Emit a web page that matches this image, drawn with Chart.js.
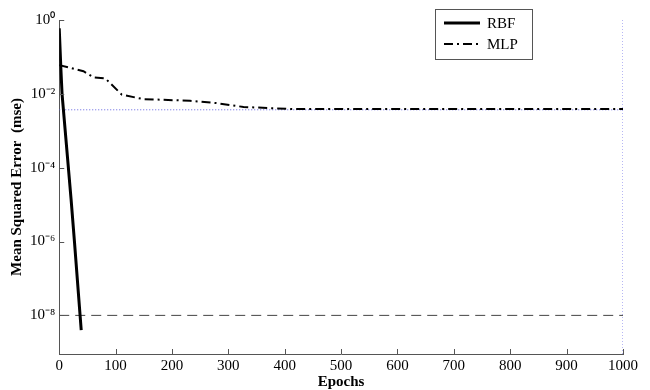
<!DOCTYPE html>
<html>
<head>
<meta charset="utf-8">
<script src="https://cdn.jsdelivr.net/npm/chart.js@4.4.1/dist/chart.umd.min.js"></script>
<style>
  html, body { margin: 0; padding: 0; background: #fff; }
  #wrap { width: 650px; height: 390px; }
</style>
</head>
<body>
<div id="wrap"><canvas id="mseChart"></canvas></div>
<script>
const xTicks = [0, 100, 200, 300, 400, 500, 600, 700, 800, 900, 1000];
const yTicks = [1e-8, 1e-6, 1e-4, 1e-2, 1];

// training curves
const rbfEpochs = [0, 3, 5, 21, 27, 37, 39];
const rbfMse = [0.6, 0.045, 0.01, 1.4e-5, 1e-6, 1e-8, 4e-9];
const mlpEpochs = [0, 43, 61, 82, 111, 149, 232, 280, 327, 410, 1000];
const mlpMse = [0.06, 0.041, 0.028, 0.026, 0.0095, 0.0072, 0.0065, 0.0056, 0.0044, 0.0039, 0.0039];

// reference lines
const goalMse = 3.7e-3;
const floorMse = 1e-8;
const maxEpoch = 1000;
const yMin = 9e-10;
const yMax = 1;

const serif = "'Liberation Serif', 'Times New Roman', serif";
const supDigits = { '0': '\u2070', '1': '\u00b9', '2': '\u00b2', '3': '\u00b3', '4': '\u2074', '5': '\u2075', '6': '\u2076', '7': '\u2077', '8': '\u2078', '9': '\u2079', '-': '\u207b' };
function pow10Label(v) {
    const e = String(Math.round(Math.log10(v)));
    return '10' + e.split('').map(c => supDigits[c]).join('');
}

function pts(xs, ys) {
    return xs.map((x, i) => ({ x: x, y: ys[i] }));
}

/* tick marks drawn inside the axes */
const innerTicks = {
    id: 'innerTicks',
    afterDatasetsDraw(chart) {
        const { ctx, chartArea, scales: { x, y } } = chart;
        ctx.save();
        ctx.strokeStyle = '#555';
        ctx.lineWidth = 1;
        ctx.beginPath();
        x.ticks.forEach(t => {
            const px = Math.round(x.getPixelForValue(t.value)) + 0.5;
            ctx.moveTo(px, chartArea.bottom);
            ctx.lineTo(px, chartArea.bottom - 5);
        });
        y.ticks.forEach(t => {
            const py = Math.round(y.getPixelForValue(t.value)) + 0.5;
            ctx.moveTo(chartArea.left, py);
            ctx.lineTo(chartArea.left + 5, py);
        });
        ctx.stroke();
        ctx.restore();
    }
};

/* boxed legend in the upper right, first two datasets only */
const boxLegend = {
    id: 'boxLegend',
    afterDraw(chart) {
        const { ctx, chartArea } = chart;
        const bx = chartArea.right - 188, by = chartArea.top - 11, bw = 97, bh = 50;
        ctx.save();
        ctx.fillStyle = '#fff';
        ctx.fillRect(bx, by, bw, bh);
        ctx.strokeStyle = '#555';
        ctx.lineWidth = 1;
        ctx.strokeRect(bx + 0.5, by + 0.5, bw, bh);
        chart.data.datasets.slice(0, 2).forEach((ds, i) => {
            const ly = by + 14 + i * 21;
            ctx.beginPath();
            ctx.strokeStyle = ds.borderColor;
            ctx.lineWidth = ds.borderWidth;
            ctx.setLineDash(ds.borderDash || []);
            ctx.moveTo(bx + 9, ly);
            ctx.lineTo(bx + 45, ly);
            ctx.stroke();
            ctx.setLineDash([]);
            ctx.fillStyle = '#000';
            ctx.font = '15px ' + serif;
            ctx.textBaseline = 'middle';
            ctx.fillText(ds.label, bx + 52, ly + 1);
        });
        ctx.restore();
    }
};

const ctx = document.getElementById('mseChart');
const chart = new Chart(ctx, {
    type: 'line',
    data: {
        datasets: [
            {
                label: 'RBF',
                data: pts(rbfEpochs, rbfMse),
                borderColor: '#000',
                borderWidth: 3,
                pointRadius: 0,
                tension: 0
            },
            {
                label: 'MLP',
                data: pts(mlpEpochs, mlpMse),
                borderColor: '#000',
                borderWidth: 2,
                borderDash: [9, 4, 2, 4],
                pointRadius: 0,
                tension: 0
            },
            {
                label: 'goal',
                data: pts([0, maxEpoch], [goalMse, goalMse]),
                borderColor: '#5f5fe0',
                borderWidth: 1,
                borderDash: [1, 2],
                pointRadius: 0
            },
            {
                label: 'floor',
                data: pts([0, maxEpoch], [floorMse, floorMse]),
                borderColor: '#444',
                borderWidth: 1,
                borderDash: [10, 6],
                pointRadius: 0
            },
            {
                label: 'stop',
                data: pts([maxEpoch, maxEpoch], [yMax, yMin]),
                borderColor: '#6f6fe8',
                borderWidth: 1,
                borderDash: [1, 2],
                pointRadius: 0
            }
        ]
    },
    options: {
        responsive: true,
        maintainAspectRatio: false,
        animation: false,
        layout: {
            padding: { left: 8, right: 27, top: 20, bottom: 0 }
        },
        plugins: {
            legend: { display: false },
            tooltip: { enabled: false }
        },
        scales: {
            x: {
                type: 'linear',
                min: 0,
                max: maxEpoch,
                afterBuildTicks: axis => { axis.ticks = xTicks.map(v => ({ value: v })); },
                grid: { display: false, drawTicks: false },
                border: { display: true, color: '#555', width: 1 },
                ticks: {
                    color: '#000',
                    font: { family: serif, size: 15, lineHeight: 1 },
                    padding: 5,
                    maxRotation: 0,
                    callback: v => String(v)
                },
                title: {
                    display: true,
                    text: 'Epochs',
                    color: '#000',
                    font: { family: serif, size: 15, weight: 'bold', lineHeight: 1 },
                    padding: { top: -4, bottom: 0 }
                }
            },
            y: {
                type: 'logarithmic',
                min: yMin,
                max: yMax,
                afterBuildTicks: axis => { axis.ticks = yTicks.map(v => ({ value: v })); },
                grid: { display: false, drawTicks: false },
                border: { display: true, color: '#555', width: 1 },
                ticks: {
                    color: '#000',
                    font: { family: serif, size: 15 },
                    padding: 4,
                    callback: v => pow10Label(v)
                },
                title: {
                    display: true,
                    text: 'Mean Squared Error  (mse)',
                    color: '#000',
                    font: { family: serif, size: 15, weight: 'bold' },
                    padding: 0
                }
            }
        }
    },
    plugins: [innerTicks, boxLegend]
});
</script>
</body>
</html>
